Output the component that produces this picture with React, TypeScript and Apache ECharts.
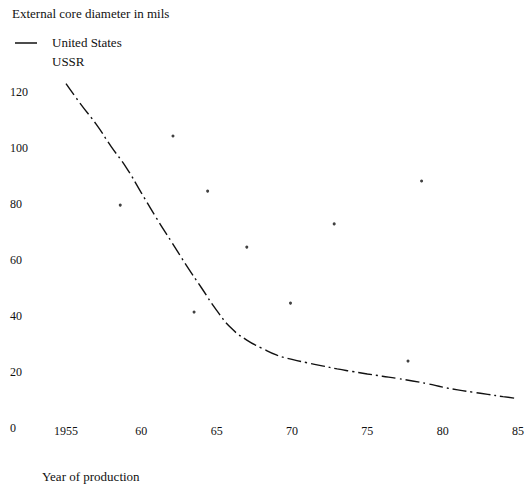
import React, { useEffect, useRef } from "react";
import * as echarts from "echarts";

const titleText = "External core diameter in mils";
const xAxisTitle = "Year of production";
const seriesNames = ["United States", "USSR"];

const usYears = [1955, 1956, 1957, 1958, 1959, 1960, 1961, 1962, 1963, 1964, 1965, 1966, 1967, 1968, 1969, 1970, 1971, 1972, 1973, 1974, 1975, 1976, 1977, 1978, 1979, 1980, 1981, 1982, 1983, 1984, 1985];
const usValues = [123, 115.5, 108.5, 100.5, 93, 84, 75, 66.5, 58, 50, 42, 35.5, 31.4, 28.5, 26, 24.5, 23.3, 22.2, 21.1, 20.2, 19.3, 18.5, 17.7, 16.8, 15.8, 14.6, 13.6, 12.8, 12, 11.2, 10.5];

const ussrYears = [1958.6, 1962.1, 1963.5, 1964.4, 1967.0, 1969.9, 1972.8, 1977.7, 1978.6];
const ussrValues = [79.6, 104.3, 41.4, 84.6, 64.6, 44.6, 72.9, 23.9, 88.2];

const xTicks = [1955, 1960, 1965, 1970, 1975, 1980, 1985];
const yTicks = [0, 20, 40, 60, 80, 100, 120];

const FONT = "Liberation Serif";
const INK = "#111";

export default function App() {
  const ref = useRef<HTMLDivElement>(null);
  useEffect(() => {
    if (!ref.current) return;
    const chart = echarts.init(ref.current, undefined, { renderer: "svg" });
    chart.setOption({
      animation: false,
      backgroundColor: "#fff",
      textStyle: { fontFamily: FONT, color: INK },
      grid: { left: 66, right: 14, top: 92, bottom: 58 },
      xAxis: {
        type: "value",
        min: xTicks[0],
        max: xTicks[xTicks.length - 1],
        interval: 5,
        axisLine: { show: false },
        axisTick: { show: false },
        splitLine: { show: false },
        axisLabel: {
          margin: 3,
          verticalAlign: "middle",
          fontFamily: FONT,
          fontSize: 12,
          color: INK,
          formatter: (v: number) => (v === 1955 ? "1955" : String(v % 100).padStart(2, "0")),
        },
      },
      yAxis: {
        type: "value",
        min: yTicks[0],
        max: yTicks[yTicks.length - 1],
        interval: 20,
        axisLine: { show: false },
        axisTick: { show: false },
        splitLine: { show: false },
        axisLabel: { align: "left", margin: 56, fontFamily: FONT, fontSize: 12, color: INK },
      },
      graphic: [
        { type: "text", left: 12, top: 7, style: { text: titleText, font: `13px "${FONT}"`, fill: INK } },
        { type: "line", shape: { x1: 15, y1: 43, x2: 37, y2: 43 }, style: { stroke: INK, lineWidth: 1.5 } },
        { type: "text", left: 52, top: 36, style: { text: seriesNames[0], font: `13px "${FONT}"`, fill: INK } },
        { type: "text", left: 52, top: 55, style: { text: seriesNames[1], font: `13px "${FONT}"`, fill: INK } },
        { type: "text", left: 42, top: 470, style: { text: xAxisTitle, font: `13px "${FONT}"`, fill: INK } },
      ],
      series: [
        {
          name: seriesNames[0],
          type: "line",
          data: usYears.map((y, i) => [y, usValues[i]]),
          smooth: true,
          showSymbol: false,
          clip: false,
          lineStyle: { color: INK, width: 1.4, type: [14, 4, 2, 4] },
        },
        {
          name: seriesNames[1],
          type: "scatter",
          data: ussrYears.map((y, i) => [y, ussrValues[i]]),
          symbol: "circle",
          symbolSize: 3,
          itemStyle: { color: INK },
        },
      ],
    });
    return () => chart.dispose();
  }, []);
  return <div ref={ref} style={{ width: 532, height: 486, position: "absolute", left: 0, top: 0 }} />;
}
